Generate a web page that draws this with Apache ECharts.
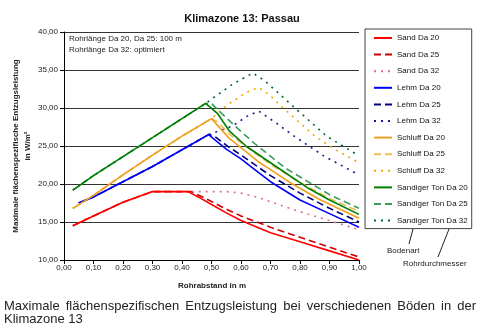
<!DOCTYPE html>
<html>
<head>
<meta charset="utf-8">
<script src="https://cdn.jsdelivr.net/npm/echarts@6/dist/echarts.min.js"></script>
<style>
html,body{margin:0;padding:0;background:#fff;}
#c{width:480px;height:330px;}
</style>
</head>
<body>
<div id="c"></div>
<script>
// ---- data (x = Rohrabstand in m, y = W/m²) ----
const seriesNames = ['Sand Da 20','Sand Da 25','Sand Da 32','Lehm Da 20','Lehm Da 25','Lehm Da 32',
  'Schluff Da 20','Schluff Da 25','Schluff Da 32','Sandiger Ton Da 20','Sandiger Ton Da 25','Sandiger Ton Da 32'];

const sandDa20 = [[0.03,14.5],[0.1,15.8],[0.2,17.6],[0.3,19.0],[0.42,19.0],[0.46,18.2],[0.5,17.3],[0.55,16.2],[0.6,15.2],[0.7,13.6],[0.8,12.4],[0.9,11.2],[1.0,10.0]];
const sandDa25 = [[0.03,14.5],[0.1,15.8],[0.2,17.6],[0.3,19.0],[0.43,19.0],[0.47,18.3],[0.5,17.7],[0.55,16.7],[0.6,15.8],[0.7,14.3],[0.8,13.0],[0.9,11.7],[1.0,10.4]];
const sandDa32 = [[0.03,14.5],[0.1,15.8],[0.2,17.6],[0.3,19.0],[0.42,19.0],[0.55,19.0],[0.6,18.8],[0.66,18.2],[0.72,17.4],[0.78,16.6],[0.89,15.3],[1.0,14.0]];

const lehmDa20 = [[0.05,17.5],[0.1,18.3],[0.19,20.1],[0.3,22.3],[0.4,24.5],[0.49,26.5],[0.55,24.6],[0.6,23.3],[0.65,21.8],[0.7,20.3],[0.8,17.9],[0.9,16.1],[1.0,14.3]];
const lehmDa25 = [[0.05,17.5],[0.1,18.3],[0.19,20.1],[0.3,22.3],[0.4,24.5],[0.49,26.5],[0.51,26.3],[0.55,25.1],[0.6,23.8],[0.7,21.1],[0.8,18.8],[0.9,16.8],[1.0,15.0]];
const lehmDa32 = [[0.05,17.5],[0.1,18.3],[0.19,20.1],[0.3,22.3],[0.4,24.5],[0.49,26.5],[0.57,27.6],[0.62,28.9],[0.66,29.6],[0.72,28.0],[0.78,26.3],[0.88,23.7],[1.0,21.2]];

const schluffDa20 = [[0.03,16.8],[0.1,18.5],[0.2,21.2],[0.3,23.8],[0.4,26.3],[0.5,28.6],[0.56,26.0],[0.6,24.8],[0.66,22.9],[0.7,21.9],[0.77,20.1],[0.87,17.9],[1.0,15.5]];
const schluffDa25 = [[0.03,16.8],[0.1,18.5],[0.2,21.2],[0.3,23.8],[0.4,26.3],[0.5,28.6],[0.52,28.2],[0.56,26.6],[0.6,25.4],[0.7,22.6],[0.8,20.2],[0.9,18.1],[1.0,16.4]];
const schluffDa32 = [[0.03,16.8],[0.1,18.5],[0.2,21.2],[0.3,23.8],[0.4,26.3],[0.5,28.6],[0.55,30.3],[0.62,32.1],[0.66,32.7],[0.7,31.6],[0.74,30.1],[0.85,26.3],[0.92,24.5],[1.0,22.8]];

const tonDa20 = [[0.03,19.2],[0.1,21.1],[0.2,23.6],[0.3,26.1],[0.4,28.6],[0.48,30.6],[0.52,29.3],[0.56,27.0],[0.62,24.9],[0.7,22.8],[0.83,19.4],[0.9,17.9],[1.0,16.0]];
const tonDa25 = [[0.03,19.2],[0.1,21.1],[0.2,23.6],[0.3,26.1],[0.4,28.6],[0.48,30.6],[0.5,30.6],[0.55,28.7],[0.6,26.9],[0.65,25.2],[0.75,22.1],[0.9,18.6],[1.0,16.8]];
const tonDa32 = [[0.03,19.2],[0.1,21.1],[0.2,23.6],[0.3,26.1],[0.4,28.6],[0.48,30.6],[0.57,33.1],[0.64,34.6],[0.68,33.6],[0.78,30.1],[0.89,26.3],[1.0,23.7]];

const allData = [sandDa20,sandDa25,sandDa32,lehmDa20,lehmDa25,lehmDa32,schluffDa20,schluffDa25,schluffDa32,tonDa20,tonDa25,tonDa32];
const colors = ['#ff0000','#cc0000','#e0708a','#0000ff','#000080','#1a1a99','#f0a020','#ecbc50','#eaa800','#008000','#3c9c5c','#006633'];
const dashes = ['solid',[7,4],[2,5],'solid',[7,4],[2,5],'solid',[7,4],[2,5],'solid',[7,4],[2,5]];

const title = 'Klimazone 13: Passau';
const note1 = 'Rohrlänge Da 20, Da 25: 100 m';
const note2 = 'Rohrlänge Da 32: optimiert';
const yName1 = 'Maximale flächenspezifische Entzugsleistung';
const yName2 = 'in W/m²';
const xName = 'Rohrabstand in m';
const caption1 = 'Maximale flächenspezifischen Entzugsleistung bei verschiedenen Böden in der';
const caption2 = 'Klimazone 13';

const FF = '"Liberation Sans", Arial, sans-serif';
const fmt = v => v.toFixed(2).replace('.', ',');

// justified caption line
const capFont = '13px "Liberation Sans"';
const cv = document.createElement('canvas').getContext('2d');
cv.font = capFont;
const words = caption1.split(' ');
const widths = words.map(w => cv.measureText(w).width);
const lineL = 4, lineR = 476;
const gap = (lineR - lineL - widths.reduce((a,b)=>a+b,0)) / (words.length - 1);
const capEls = [];
let cx = lineL;
words.forEach((w,i) => {
  capEls.push({type:'text', left: cx, top: 300, style:{text:w, font: capFont, fill:'#222'}});
  cx += widths[i] + gap;
});
capEls.push({type:'text', left: lineL, top: 313, style:{text:caption2, font: capFont, fill:'#222'}});

const chart = echarts.init(document.getElementById('c'), null, {renderer:'canvas'});
chart.setOption({
  animation:false,
  backgroundColor:'#fff',
  title:{text:title, left:237, top:8, textAlign:'center',
    textStyle:{fontFamily:FF, fontSize:11, fontWeight:'bold', color:'#111'}},
  grid:{left:64, right:121, top:32, bottom:70, containLabel:false},
  xAxis:{type:'value', min:0, max:1, interval:0.1,
    axisLine:{show:true, onZero:false, lineStyle:{color:'#000', width:1}},
    axisTick:{show:true, inside:false, length:4, lineStyle:{color:'#000'}},
    axisLabel:{formatter:fmt, fontFamily:FF, fontSize:8, color:'#222', margin:4},
    splitLine:{show:false}},
  yAxis:{type:'value', min:10, max:40, interval:5,
    axisLine:{show:true, lineStyle:{color:'#000', width:1}},
    axisTick:{show:true, inside:false, length:4, lineStyle:{color:'#000'}},
    axisLabel:{formatter:fmt, fontFamily:FF, fontSize:8, color:'#222', margin:6},
    splitLine:{show:true, lineStyle:{color:'#333', width:1}}},
  legend:{type:'plain', orient:'vertical', left:365, top:29, padding:[5,4,4,8], itemGap:8.6,
    itemWidth:18, itemHeight:8, data:seriesNames,
    itemStyle:{opacity:0, borderWidth:0},
    textStyle:{fontFamily:FF, fontSize:8, color:'#111'},
    borderColor:'#444', borderWidth:1, backgroundColor:'#fff'},
  series: allData.map((d,i) => ({
    name: seriesNames[i], type:'line', data:d, symbol:'none', showSymbol:false,
    smooth:false, z: (i % 3 === 0) ? 4 : 2,
    lineStyle:{color:colors[i], width:1.6, type:dashes[i]},
    itemStyle:{color:colors[i]},
    clip:true
  })),
  graphic:[
    {type:'text', left:69, top:35, style:{text:note1, font:'8px '+FF, fill:'#222'}},
    {type:'text', left:69, top:46, style:{text:note2, font:'8px '+FF, fill:'#222'}},
    {type:'text', x:16, y:146, rotation:Math.PI/2, style:{text:yName1, font:'bold 8px '+FF, fill:'#222', align:'center', verticalAlign:'middle'}},
    {type:'text', x:28, y:146, rotation:Math.PI/2, style:{text:yName2, font:'bold 8px '+FF, fill:'#222', align:'center', verticalAlign:'middle'}},
    {type:'text', x:212, y:286, style:{text:xName, font:'bold 8px '+FF, fill:'#222', align:'center', verticalAlign:'middle'}},
    {type:'line', shape:{x1:413, y1:229, x2:409, y2:244}, style:{stroke:'#222', lineWidth:1}},
    {type:'line', shape:{x1:449, y1:229, x2:438, y2:257}, style:{stroke:'#222', lineWidth:1}},
    {type:'text', x:387, y:251, style:{text:'Bodenart', font:'8px '+FF, fill:'#222', verticalAlign:'middle'}},
    {type:'text', x:403, y:264, style:{text:'Rohrdurchmesser', font:'8px '+FF, fill:'#222', verticalAlign:'middle'}}
  ].concat(capEls)
});
</script>
</body>
</html>
